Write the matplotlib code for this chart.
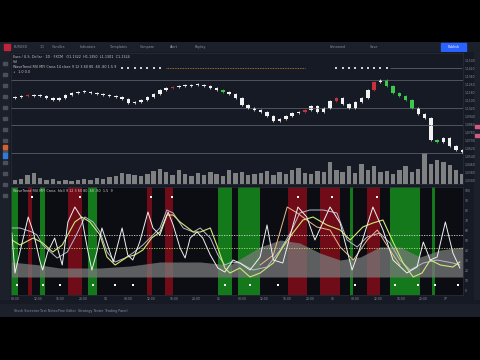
import matplotlib
matplotlib.use('Agg')
import matplotlib.pyplot as plt
import numpy as np

W, H = 480, 360
def box(x0, y0, x1, y1):
    return [x0 / W, 1 - y1 / H, (x1 - x0) / W, (y1 - y0) / H]

# ---------------- data ----------------
closes = [1.113, 1.114, 1.115, 1.114, 1.114, 1.112, 1.110, 1.112, 1.115, 1.117,
          1.118, 1.118, 1.117, 1.116, 1.115, 1.114, 1.113, 1.111, 1.107, 1.108,
          1.110, 1.113, 1.116, 1.120, 1.122, 1.123, 1.124, 1.124, 1.125, 1.125,
          1.124, 1.122, 1.120, 1.118, 1.116, 1.112, 1.105, 1.102, 1.100, 1.098,
          1.094, 1.089, 1.091, 1.094, 1.097, 1.098, 1.100, 1.104, 1.098, 1.102,
          1.109, 1.112, 1.106, 1.102, 1.108, 1.112, 1.120, 1.128, 1.130, 1.124,
          1.117, 1.114, 1.110, 1.102, 1.096, 1.092, 1.070, 1.068, 1.072, 1.064,
          1.060, 1.058]
first_open = 1.112
candle_color = ['w', 'w', 'r', 'w', 'w', 'w', 'w', 'w', 'w', 'w',
                'w', 'w', 'w', 'w', 'w', 'w', 'w', 'w', 'w', 'w',
                'w', 'w', 'w', 'w', 'w', 'r', 'w', 'w', 'w', 'w',
                'w', 'w', 'w', 'g', 'w', 'w', 'w', 'w', 'w', 'w',
                'w', 'w', 'w', 'w', 'w', 'w', 'r', 'w', 'w', 'w',
                'w', 'r', 'w', 'w', 'w', 'w', 'w', 'r', 'w', 'g',
                'g', 'g', 'g', 'g', 'w', 'w', 'w', 'g', 'w', 'w',
                'w', 'w']
volumes = [4, 5, 9, 11, 6, 4, 5, 3, 4, 3, 4, 5, 4, 6, 5, 7, 8, 11, 10, 9,
           8, 10, 13, 15, 12, 9, 14, 10, 8, 11, 9, 12, 10, 8, 14, 11, 12, 9, 10, 11,
           13, 9, 12, 10, 14, 16, 11, 10, 13, 12, 22, 14, 12, 18, 11, 20, 14, 18, 12, 13,
           10, 14, 18, 12, 15, 31, 20, 24, 22, 19, 14, 10]
price_levels = [1.130, 1.102, 1.085, 1.057]
signal_row_price = 1.142
signal_marks = [17, 18, 19, 20, 21, 22, 23, 51, 52, 53, 54, 55, 56, 57, 58, 59]

# oscillator series (bar position, value 0-100)
white_x = [-0.5, 0, 2.1, 2.9, 4.0, 4.4, 5.2, 6.3, 7.5, 8.4, 9.5, 10.6, 11.6, 12.2, 13.0, 13.8,
           14.8, 15.6, 17.0, 17.9, 18.7, 19.8, 21.1, 21.9, 23.0, 24.3, 25.1, 26.2, 27.0, 27.8,
           28.9, 29.8, 31.0, 32.2, 33.3, 34.1, 34.6, 35.7, 37.3, 38.9, 40.0, 41.0, 42.5, 44.9,
           46.3, 47.6, 50.0, 51.6, 53.5, 54.8, 56.8, 58.4, 60.0, 62.2, 63.8, 64.8, 65.9, 67.0,
           68.3, 69.5, 70.6]
white_v = [57, 17, 73, 58, 28, 20, 38, 52, 25, 68, 83, 72, 38, 20, 38, 62,
           43, 28, 62, 35, 30, 48, 78, 62, 55, 78, 65, 42, 32, 52,
           58, 52, 35, 22, 18, 25, 30, 27, 20, 33, 65, 30, 27, 83,
           73, 50, 83, 67, 20, 43, 83, 60, 30, 17, 23, 48, 30, 33,
           68, 37, 22]
yellow_x = [-0.5, 0.8, 2.9, 4.4, 6.0, 7.5, 9.5, 10.6, 11.9, 13.5, 14.6, 15.9, 17.8, 19.0, 20.3,
            21.7, 23.0, 24.1, 25.1, 26.2, 28.3, 29.4, 31.0, 32.2, 33.3, 34.1, 35.7, 37.3, 38.9,
            41.0, 42.5, 44.1, 45.7, 47.3, 49.5, 51.6, 53.2, 55.2, 56.8, 58.4, 60.0, 61.6, 63.2,
            64.6, 65.9, 67.5, 69.5, 70.6]
yellow_v = [50, 45, 52, 47, 38, 45, 68, 73, 68, 55, 33, 25, 33, 35, 40,
            52, 58, 75, 75, 68, 58, 58, 62, 42, 22, 17, 22, 13, 17,
            27, 43, 57, 70, 73, 65, 60, 50, 63, 67, 70, 48, 27, 13,
            17, 30, 25, 23, 28]
gray_x = [-0.5, 0.8, 2.7, 3.5, 4.4, 6.7, 8.3, 9.5, 11.1, 12.4, 13.5, 14.6, 15.9, 17.5, 18.7,
          20.3, 21.9, 23.0, 24.1, 25.1, 26.7, 28.3, 29.4, 31.0, 32.2, 33.3, 34.4, 35.7, 37.8,
          40.0, 42.1, 43.7, 45.2, 46.8, 48.9, 51.1, 52.7, 54.3, 55.9, 57.9, 59.5, 61.1, 62.7,
          64.8, 67.0, 69.5, 70.6]
gray_v = [62, 62, 58, 55, 45, 32, 38, 52, 73, 68, 58, 38, 28, 32, 37,
          45, 55, 62, 80, 77, 62, 58, 62, 52, 35, 25, 28, 27, 20,
          23, 40, 57, 77, 80, 80, 77, 50, 43, 53, 57, 47, 30, 20,
          27, 30, 27, 25]
peach_x = [38.9, 41.0, 43.2, 44.8, 46.3, 47.9, 50.0, 51.6, 53.7, 55.9, 57.5, 59.5, 61.1]
peach_v = [25, 35, 83, 77, 70, 63, 60, 43, 30, 50, 60, 40, 25]
area_x = [-0.6, 4.0, 7.1, 13.5, 18.3, 23.0, 29.4, 34.1, 38.9, 42.1, 45.2, 48.4, 51.6,
          54.8, 57.9, 61.1, 64.3, 67.5, 71.1]
area_top = [28, 25, 22, 22, 24, 28, 28, 25, 43, 50, 47, 37, 30, 33, 43, 43, 33, 40, 43]
area_base = 13
green_bands = [(-0.6, 0.5), (4.0, 4.8), (11.6, 13.0), (32.2, 34.4), (35.4, 38.9),
               (53.2, 53.7), (59.5, 64.3), (66.2, 66.7)]
red_bands = [(2.1, 2.7), (8.4, 10.6), (21.0, 21.7), (23.8, 25.1), (43.3, 46.3),
             (48.4, 51.6), (55.9, 57.9)]
top_marks = [2.7, 10.3, 21.6, 24.9, 44.9, 50.3, 57.5]
bottom_marks = [0.3, 4.4, 7.1, 12.4, 15.9, 18.7, 33.3, 37.3, 41.7, 54.0, 60.3, 64.0, 66.7, 70.3]
osc_levels = [55, 42]
time_labels = ['08:00', '12:00', '16:00', '20:00', '04', '08:00', '12:00', '16:00', '20:00', '05',
               '08:00', '12:00', '16:00', '20:00', '06', '08:00', '12:00', '16:00', '20:00', '07']
osc_ticks = [0, 10, 20, 30, 40, 50, 60, 70, 80, 90, 100]

UI = '#161a25'
PANE = '#0b0d13'
TXT = '#8a8f9c'
XL = (-0.63, 71.1)

fig = plt.figure(figsize=(4.8, 3.6), dpi=100, facecolor='black')

# screen background
bg = fig.add_axes(box(0, 42, 480, 317))
bg.set_facecolor(UI)
bg.set_xticks([]); bg.set_yticks([])
for s in bg.spines.values():
    s.set_visible(False)

# top toolbar
tb = fig.add_axes(box(0, 42, 480, 52))
tb.set_facecolor('#1c202b'); tb.set_xlim(0, 480); tb.set_ylim(0, 10)
tb.set_xticks([]); tb.set_yticks([])
for s in tb.spines.values():
    s.set_visible(False)
tb.add_patch(plt.Rectangle((4, 2), 6, 6, color='#c0243a'))
for xx, t in [(14, 'EURUSD'), (40, '1D'), (52, 'Candles'), (80, 'Indicators'), (110, 'Templates'),
              (140, 'Compare'), (170, 'Alert'), (195, 'Replay'), (330, 'Unnamed'), (370, 'Save')]:
    tb.text(xx, 5, t, fontsize=2.4, color=TXT, va='center')
tb.add_patch(plt.Rectangle((441, 1.5), 25, 7, color='#2962ff'))
tb.text(453.5, 5, 'Publish', fontsize=2.4, color='white', va='center', ha='center')

# left toolbar icons
lt = fig.add_axes(box(0, 52, 10, 300))
lt.set_facecolor('#1c202b'); lt.set_xlim(0, 10); lt.set_ylim(300, 52)
lt.set_xticks([]); lt.set_yticks([])
for s in lt.spines.values():
    s.set_visible(False)
for yy in range(62, 200, 11):
    lt.add_patch(plt.Rectangle((3, yy), 4, 3, color='#4a4f5c'))
lt.add_patch(plt.Rectangle((3, 145), 4, 4, color='#d4622a'))
lt.add_patch(plt.Rectangle((3, 153), 4, 5, color='#2f7bd8'))

# right-hand strip markers
rs = fig.add_axes(box(474, 52, 480, 300))
rs.set_facecolor('#1c202b'); rs.set_xlim(0, 6); rs.set_ylim(300, 52)
rs.set_xticks([]); rs.set_yticks([])
for s in rs.spines.values():
    s.set_visible(False)
rs.add_patch(plt.Rectangle((1, 125), 5, 3, color='#d05a80'))
rs.add_patch(plt.Rectangle((1, 134), 5, 3, color='#d05a80'))

# ---------------- price pane ----------------
ax = fig.add_axes(box(11, 53, 463, 184))
ax.set_facecolor(PANE)
idx = np.arange(len(closes))
opens = np.array([first_open] + closes[:-1])
cl = np.array(closes)
lo = np.minimum(opens, cl)
hgt = np.maximum(np.abs(cl - opens), 0.0009)
cmap = {'w': '#f2f2f2', 'r': '#c8303a', 'g': '#3cc84a'}
cols = [cmap[c] for c in candle_color]

# volume overlay (behind candles)
av = ax.twinx()
av.bar(idx, volumes, width=0.7, color='#9a9a9a', alpha=0.8, linewidth=0)
av.set_ylim(0, 130)
av.set_yticks([])
av.set_xlim(*XL)
for s in av.spines.values():
    s.set_visible(False)

for lv in price_levels:
    ax.axhline(lv, color='#5a5e68', linewidth=0.6)
ax.vlines(idx, lo - 0.0012, lo + hgt + 0.0012, colors=cols, linewidth=0.5)
ax.bar(idx, hgt, bottom=lo, width=0.55, color=cols, linewidth=0)
ax.hlines(signal_row_price, 24, 46, colors='#c88a2a', linestyles=(0, (1, 1)), linewidth=0.6)
ax.hlines(signal_row_price, 59.5, 71, colors='#6a6e78', linewidth=0.5)
ax.scatter(signal_marks, [signal_row_price] * len(signal_marks), s=0.8, color='#cfcfcf', marker='s', linewidths=0)
ax.set_xlim(*XL)
ax.set_ylim(1.026, 1.157)
pt = np.arange(1.030, 1.156, 0.008)
ax.set_yticks(pt)
ax.set_yticklabels(['%.4f' % v for v in pt])
ax.yaxis.tick_right()
ax.yaxis.set_label_position('right')
ax.tick_params(axis='y', labelsize=2.2, colors=TXT, length=0, pad=1.5, left=False, labelleft=False,
               right=False, labelright=True)
ax.set_xticks([])
for s in ax.spines.values():
    s.set_color('#2a2e39'); s.set_linewidth(0.5)
ax.text(0.005, 0.985, 'Euro / U.S. Dollar \u00b7 1D \u00b7 FXCM   O1.1322  H1.1350  L1.1301  C1.1324',
        transform=ax.transAxes, fontsize=2.4, color='#c8c8c8', va='top')
ax.text(0.005, 0.945, 'Vol', transform=ax.transAxes, fontsize=2.4, color='#c8c8c8', va='top')
ax.text(0.005, 0.905, 'WaveTrend RSI MFI Cross 14 close 9 12 3 60 80 -60 -80 1.5 9',
        transform=ax.transAxes, fontsize=2.4, color='#c8c8c8', va='top')
ax.text(0.005, 0.87, '\u2193  1.0 0.0', transform=ax.transAxes, fontsize=2.4, color='#c8c8c8', va='top')
ax.set_zorder(av.get_zorder() + 1)
ax.patch.set_visible(False)
av.set_facecolor(PANE)

# ---------------- oscillator pane ----------------
ox = fig.add_axes(box(11, 187, 463, 295))
ox.set_facecolor(PANE)
for a, b in green_bands:
    ox.axvspan(a, b, color='#14861b', alpha=0.9, linewidth=0)
for a, b in red_bands:
    ox.axvspan(a, b, color='#7c0c18', alpha=0.9, linewidth=0)
ox.fill_between(area_x, area_base, area_top, color='#7a7a7a', alpha=0.75, linewidth=0)
ox.axhline(osc_levels[0], color='#d8d8d8', linestyle=(0, (1.5, 1.5)), linewidth=0.6)
ox.axhline(osc_levels[1], color='#b8e070', linestyle=(0, (1.5, 1.5)), linewidth=0.6)
ox.plot(gray_x, gray_v, color='#b9b9cf', linewidth=0.7)
ox.plot(peach_x, peach_v, color='#f2b88a', linewidth=0.7)
ox.plot(yellow_x, yellow_v, color='#cfe878', linewidth=0.8)
ox.plot(white_x, white_v, color='#f0f0f0', linewidth=0.7)
ox.scatter(top_marks, [93] * len(top_marks), s=1.2, color='white', marker='s', linewidths=0)
ox.scatter(bottom_marks, [5] * len(bottom_marks), s=1.2, color='white', marker='s', linewidths=0)
ox.set_xlim(*XL)
ox.set_ylim(-5, 103)
ox.yaxis.tick_right()
ox.set_yticks(osc_ticks)
ox.tick_params(axis='y', labelsize=2.2, colors=TXT, length=0, pad=1.5)
tpos = np.arange(0, 71, 3.6)[:len(time_labels)]
ox.set_xticks(tpos)
ox.set_xticklabels(time_labels)
ox.tick_params(axis='x', labelsize=2.2, colors=TXT, length=0, pad=1.5)
for s in ox.spines.values():
    s.set_color('#2a2e39'); s.set_linewidth(0.5)
ox.text(0.005, 0.985, 'WaveTrend RSI MFI Cross  hlc3 9 12 3 60 80 -60 -80  1.5  9',
        transform=ox.transAxes, fontsize=2.4, color='#d0d0d0', va='top')

# footer
ft = fig.add_axes(box(0, 304, 480, 317))
ft.set_facecolor('#1c202b'); ft.set_xlim(0, 480); ft.set_ylim(0, 13)
ft.set_xticks([]); ft.set_yticks([])
for s in ft.spines.values():
    s.set_visible(False)
for xx, t in [(14, 'Stock Screener'), (40, 'Text Notes'), (58, 'Pine Editor'), (78, 'Strategy Tester'),
              (105, 'Trading Panel')]:
    ft.text(xx, 6, t, fontsize=2.4, color=TXT, va='center')

fig.savefig('out.png', dpi=100, facecolor='black')
